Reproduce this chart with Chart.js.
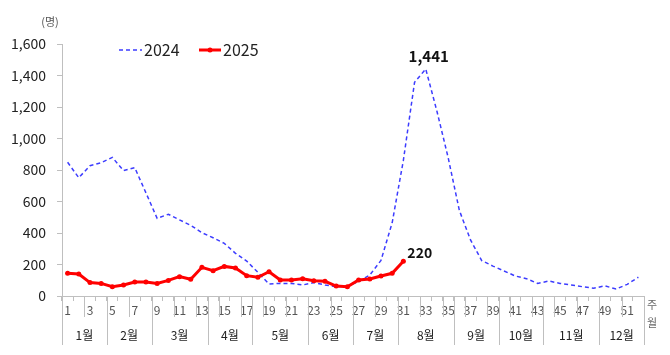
<!DOCTYPE html>
<html>
<head>
<meta charset="utf-8">
<script src="https://cdn.jsdelivr.net/npm/chart.js@4/dist/chart.umd.min.js"></script>
<style>
html,body{margin:0;padding:0;background:#fff;}
#wrap{width:670px;height:355px;position:relative;}
</style>
</head>
<body>
<div id="wrap"><canvas id="c" width="670" height="355"></canvas></div>
<script>
const weeks = Array.from({length: 52}, (_, i) => String(i + 1));
const series2024 = [849,751,827,846,880,796,815,655,493,519,483,449,402,370,334,271,222,150,76,80,80,70,85,70,59,63,91,133,226,465,861,1357,1441,1173,879,544,356,225,190,159,127,110,80,95,80,70,59,49,65,44,74,119];
const series2025 = [144,140,85,80,59,70,89,89,80,99,123,106,182,161,188,178,129,119,154,102,102,110,97,93,63,59,102,108,127,144,220];
const monthLabels = ['1월','2월','3월','4월','5월','6월','7월','8월','9월','10월','11월','12월'];
const monthLastWeek = [4,8,13,17,22,26,30,35,39,43,48,52];
const yTicks = [0,200,400,600,800,1000,1200,1400,1600];
const seriesNames = ['2024','2025'];
const unitLabel = '(명)';
const axisWord1 = '주';
const axisWord2 = '월';

const FONT = "'Noto Sans CJK KR', 'Noto Sans', sans-serif";
const GRAY = '#bfbfbf';

const decor = {
  id: 'decor',
  afterDraw(chart) {
    const ctx = chart.ctx;
    const xs = chart.scales.x;
    const area = chart.chartArea;
    const bx = b => xs.getPixelForValue(b - 0.5);
    ctx.save();
    ctx.strokeStyle = GRAY; ctx.lineWidth = 1;
    for (let b = 2; b < 52; b += 2) {
      const x = Math.round(bx(b)) + 0.5;
      ctx.beginPath(); ctx.moveTo(x, area.bottom); ctx.lineTo(x, area.bottom + 21); ctx.stroke();
    }
    const bounds = [0].concat(monthLastWeek);
    bounds.forEach(b => {
      const x = Math.round(bx(b)) + 0.5;
      ctx.beginPath(); ctx.moveTo(x, area.bottom); ctx.lineTo(x, area.bottom + 49); ctx.stroke();
    });
    ctx.fillStyle = '#222'; ctx.font = '12px ' + FONT;
    ctx.textAlign = 'center'; ctx.textBaseline = 'middle';
    monthLabels.forEach((m, i) => {
      const x = (bx(bounds[i]) + bx(bounds[i + 1])) / 2;
      ctx.fillText(m, x, area.bottom + 39);
    });
    ctx.fillStyle = '#666'; ctx.font = '11px ' + FONT;
    ctx.fillText(axisWord1, 652, 305);
    ctx.fillText(axisWord2, 652, 323);
    ctx.fillStyle = '#555'; ctx.font = '11px ' + FONT;
    ctx.fillText(unitLabel, 50, 22);
    ctx.textAlign = 'left';
    ctx.font = '16px ' + FONT; ctx.fillStyle = '#222';
    ctx.strokeStyle = '#3c3cff'; ctx.lineWidth = 1.5; ctx.setLineDash([4, 3]);
    ctx.beginPath(); ctx.moveTo(119, 50); ctx.lineTo(142, 50); ctx.stroke();
    ctx.setLineDash([]);
    ctx.fillText(seriesNames[0], 144, 50);
    ctx.strokeStyle = '#ff0000'; ctx.lineWidth = 3;
    ctx.beginPath(); ctx.moveTo(199, 50); ctx.lineTo(221, 50); ctx.stroke();
    ctx.fillStyle = '#ff0000';
    ctx.beginPath(); ctx.arc(210, 50, 2.5, 0, Math.PI * 2); ctx.fill();
    ctx.fillStyle = '#222';
    ctx.fillText(seriesNames[1], 223, 50);
    const m2024 = chart.getDatasetMeta(1);
    const m2025 = chart.getDatasetMeta(0);
    let peak = 0;
    series2024.forEach((v, i) => { if (v > series2024[peak]) peak = i; });
    const pp = m2024.data[peak];
    ctx.font = 'bold 15px ' + FONT; ctx.fillStyle = '#111'; ctx.textAlign = 'center';
    ctx.fillText(series2024[peak].toLocaleString('en-US'), pp.x + 3, pp.y - 13);
    const lp = m2025.data[series2025.length - 1];
    ctx.font = 'bold 14px ' + FONT; ctx.textAlign = 'left';
    ctx.fillText(series2025[series2025.length - 1].toLocaleString('en-US'), lp.x + 4, lp.y - 9);
    ctx.restore();
  }
};

new Chart(document.getElementById('c'), {
  type: 'line',
  data: {
    labels: weeks,
    datasets: [
      {
        label: seriesNames[1], data: series2025, order: 0,
        borderColor: '#ff0000', backgroundColor: '#ff0000', borderWidth: 3,
        pointRadius: 2.5, pointHoverRadius: 2.5, pointBackgroundColor: '#ff0000', pointBorderWidth: 0,
        tension: 0
      },
      {
        label: seriesNames[0], data: series2024, order: 1,
        borderColor: '#3c3cff', borderWidth: 1.5, borderDash: [4, 3],
        pointRadius: 0, tension: 0
      }
    ]
  },
  options: {
    responsive: false, animation: false,
    layout: { padding: { left: 0, right: 26, top: 44, bottom: 0 } },
    plugins: { legend: { display: false }, tooltip: { enabled: false } },
    scales: {
      x: {
        type: 'category', offset: true,
        grid: { drawOnChartArea: false, offset: true, tickLength: 5, color: GRAY },
        border: { color: GRAY },
        ticks: {
          autoSkip: false, maxRotation: 0, minRotation: 0, padding: 2,
          color: '#555', font: { family: FONT, size: 12 },
          callback: (v, i) => (i % 2 === 0 ? weeks[i] : '')
        },
        afterFit: s => { s.height = 59; }
      },
      y: {
        min: 0, max: 1600,
        afterBuildTicks: s => { s.ticks = yTicks.map(v => ({ value: v })); },
        grid: { drawOnChartArea: false, tickLength: 5, color: GRAY },
        border: { color: GRAY },
        ticks: {
          padding: 11, color: '#222', font: { family: FONT, size: 14 },
          callback: v => v.toLocaleString('en-US')
        },
        afterFit: s => { s.width = 62; }
      }
    }
  },
  plugins: [decor]
});
</script>
</body>
</html>
